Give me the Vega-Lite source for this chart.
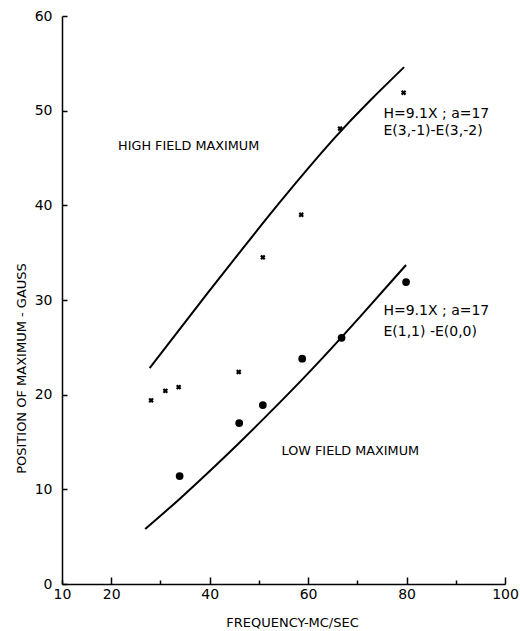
{
  "$schema": "https://vega.github.io/schema/vega-lite/v6.json",
  "width": 443,
  "height": 568,
  "autosize": {"type": "none"},
  "padding": {"left": 62, "top": 16, "right": 15, "bottom": 47},
  "background": "white",
  "config": {"view": {"stroke": null}, "font": "DejaVu Sans"},
  "datasets": {
    "upper": [
      {"f": 27.8, "g": 22.8}, {"f": 33.0, "g": 26.3}, {"f": 39.5, "g": 30.7},
      {"f": 46.2, "g": 35.1}, {"f": 53.8, "g": 40.1}, {"f": 66.0, "g": 47.6},
      {"f": 72.6, "g": 51.1}, {"f": 79.5, "g": 54.6}
    ],
    "lower": [
      {"f": 26.9, "g": 5.8}, {"f": 34.0, "g": 9.0}, {"f": 40.8, "g": 12.3},
      {"f": 46.2, "g": 15.0}, {"f": 50.3, "g": 17.1}, {"f": 58.5, "g": 21.4},
      {"f": 66.6, "g": 25.9}, {"f": 79.9, "g": 33.7}
    ],
    "cross": [
      {"f": 28.1, "g": 19.4}, {"f": 31.0, "g": 20.4}, {"f": 33.7, "g": 20.8},
      {"f": 45.9, "g": 22.4}, {"f": 50.8, "g": 34.5}, {"f": 58.6, "g": 39.0},
      {"f": 66.5, "g": 48.1}, {"f": 79.4, "g": 51.9}
    ],
    "dot": [
      {"f": 33.9, "g": 11.4}, {"f": 46.0, "g": 17.0}, {"f": 50.8, "g": 18.9},
      {"f": 58.8, "g": 23.8}, {"f": 66.8, "g": 26.0}, {"f": 79.9, "g": 31.9}
    ],
    "regionLabels": [
      {"f": 21.4, "g": 46.3, "t": "HIGH FIELD MAXIMUM"},
      {"f": 54.6, "g": 14.0, "t": "LOW FIELD MAXIMUM"}
    ],
    "curveLabels": [
      {"f": 75.3, "g": 49.7, "t": "H=9.1X ; a=17"},
      {"f": 75.3, "g": 47.8, "t": "E(3,-1)-E(3,-2)"},
      {"f": 75.3, "g": 28.8, "t": "H=9.1X ; a=17"},
      {"f": 75.3, "g": 26.65, "t": "E(1,1) -E(0,0)"}
    ]
  },
  "layer": [
    {
      "data": {"name": "upper"},
      "mark": {"type": "line", "interpolate": "basis", "color": "black", "strokeWidth": 2},
      "encoding": {
        "x": {
          "field": "f", "type": "quantitative",
          "scale": {"domain": [10, 100], "nice": false, "zero": false},
          "axis": {
            "title": "FREQUENCY-MC/SEC",
            "values": [10, 20, 30, 40, 50, 60, 70, 80, 90, 100],
            "labelExpr": "(datum.value == 30 || datum.value == 50 || datum.value == 70 || datum.value == 90) ? '' : datum.label",
            "grid": false,
            "labelFlush": false,
            "labelOverlap": false,
            "tickSize": {"condition": {"test": "datum.value % 20 == 0", "value": -7}, "value": -4},
            "labelPadding": {"condition": {"test": "datum.value % 20 == 0", "value": 10}, "value": 7},
            "domainColor": "black", "domainWidth": 1.5,
            "tickColor": "black", "tickWidth": 1.5,
            "labelFont": "DejaVu Sans", "labelFontSize": 14, "labelColor": "black",
            "titleFont": "DejaVu Sans", "titleFontSize": 13, "titleFontWeight": "normal",
            "titleColor": "black", "titleX": 230, "titleY": 38, "titleBaseline": "middle"
          }
        },
        "y": {
          "field": "g", "type": "quantitative",
          "scale": {"domain": [0, 60], "nice": false},
          "axis": {
            "title": "POSITION OF MAXIMUM - GAUSS",
            "values": [0, 10, 20, 30, 40, 50, 60],
            "grid": false,
            "labelOverlap": false,
            "tickSize": -5,
            "labelPadding": 15,
            "domainColor": "black", "domainWidth": 1.5,
            "tickColor": "black", "tickWidth": 1.5,
            "labelFont": "DejaVu Sans", "labelFontSize": 14, "labelColor": "black",
            "titleFont": "DejaVu Sans", "titleFontSize": 13, "titleFontWeight": "normal",
            "titleColor": "black", "titleX": -41, "titleY": 352, "titleBaseline": "middle"
          }
        }
      }
    },
    {
      "data": {"name": "lower"},
      "mark": {"type": "line", "interpolate": "basis", "color": "black", "strokeWidth": 2},
      "encoding": {
        "x": {"field": "f", "type": "quantitative"},
        "y": {"field": "g", "type": "quantitative"}
      }
    },
    {
      "data": {"name": "cross"},
      "mark": {"type": "point", "shape": "cross", "angle": 45, "size": 30, "filled": true, "color": "black", "opacity": 1},
      "encoding": {
        "x": {"field": "f", "type": "quantitative"},
        "y": {"field": "g", "type": "quantitative"}
      }
    },
    {
      "data": {"name": "dot"},
      "mark": {"type": "point", "shape": "circle", "size": 60, "filled": true, "color": "black", "opacity": 1},
      "encoding": {
        "x": {"field": "f", "type": "quantitative"},
        "y": {"field": "g", "type": "quantitative"}
      }
    },
    {
      "data": {"name": "regionLabels"},
      "mark": {"type": "text", "align": "left", "baseline": "middle", "font": "DejaVu Sans", "fontSize": 12.8, "color": "black"},
      "encoding": {
        "x": {"field": "f", "type": "quantitative"},
        "y": {"field": "g", "type": "quantitative"},
        "text": {"field": "t"}
      }
    },
    {
      "data": {"name": "curveLabels"},
      "mark": {"type": "text", "align": "left", "baseline": "middle", "font": "DejaVu Sans", "fontSize": 14, "color": "black"},
      "encoding": {
        "x": {"field": "f", "type": "quantitative"},
        "y": {"field": "g", "type": "quantitative"},
        "text": {"field": "t"}
      }
    }
  ]
}
